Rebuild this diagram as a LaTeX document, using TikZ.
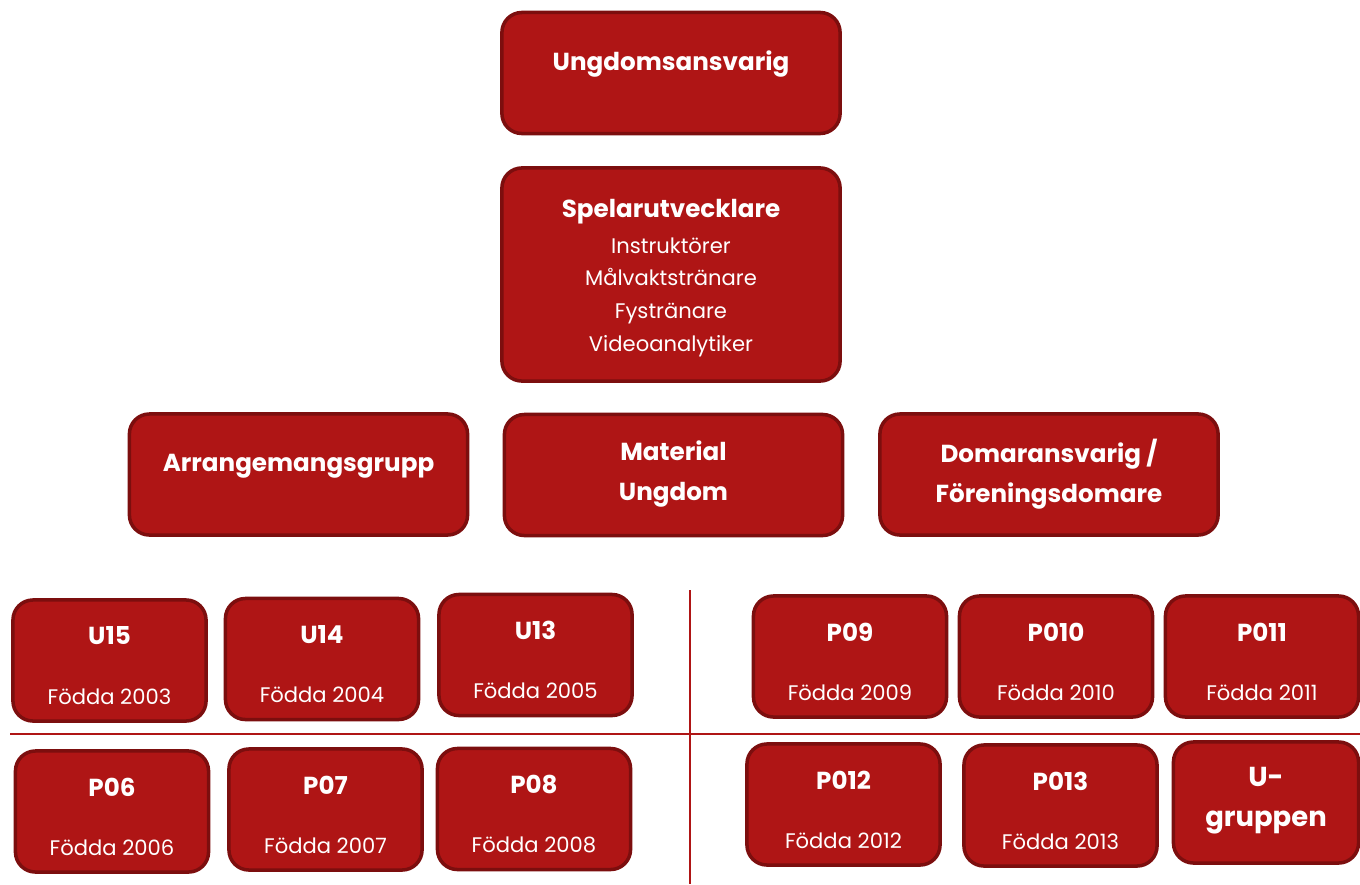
\documentclass[tikz,border=0pt]{standalone}
\usepackage{fontspec}
\setmainfont{Poppins}
\usetikzlibrary{calc}
\usetikzlibrary{positioning}
\definecolor{custom-red}{RGB}{175, 21, 21}
\definecolor{custom-darkred}{RGB}{124, 14, 14}

\tikzset{
  rolebox/.style={draw=custom-darkred, fill=custom-red, line width=1pt, rounded corners=0.2cm},
  agesize/.style={minimum width=1.93cm, minimum height=1.21cm},
  widesize/.style={minimum width=3.38cm, minimum height=1.21cm},
  boxtitle/.style={text=white, font=\bfseries\fontsize{7}{11.4}\selectfont, align=center},
  boxsub/.style={text=white, font=\fontsize{6}{9.3}\selectfont, align=center},
  divider/.style={draw=custom-red, line width=0.6pt}
}

% one age group: name, x, y, title, year
\newcommand{\agebox}[5]{%
  \node[rolebox, agesize] (#1) at (#2,#3) {};
  \node[boxtitle] (#1-title) at ($(#1.center)+(0,-24.5)$) {#4};
  \node[boxsub] (#1-year) at ($(#1.center)+(0,36)$) {Födda #5};
}

\begin{document}
\begin{tikzpicture}[x=0.01cm, y=-0.01cm]
\useasboundingbox (0,0) rectangle (1360,884);

% top of the chart
\node[rolebox, widesize] (ansvarig) at (671,73) {};
\node[boxtitle] (ansvarig-text) at (671,64) {Ungdomsansvarig};

\node[rolebox, minimum width=3.38cm, minimum height=2.13cm] (spelar) at (671,274.5) {};
\node[boxtitle] (spelar-title) at (671,212) {Spelarutvecklare};
\node[boxsub] (spelar-roles) at (671,297) {Instruktörer\\Målvaktstränare\\Fystränare\\Videoanalytiker};

% middle row
\node[rolebox, widesize] (arr) at (298.5,474.5) {};
\node[boxtitle] (arr-text) at (298.5,466) {Arrangemangsgrupp};
\node[rolebox, widesize] (mat) at (673.5,475) {};
\node[boxtitle] (mat-text) at (673.5,474) {Material\\Ungdom};
\node[rolebox, widesize] (dom) at (1049,474.5) {};
\node[boxtitle] (dom-text) at (1049,474) {Domaransvarig /\\Föreningsdomare};

% dividers
\coordinate (hline-l) at (10,734);
\coordinate (hline-r) at (1360,734);
\coordinate (vline-t) at (690,590);
\coordinate (vline-b) at (690,884);
\draw[divider] (hline-l) -- (hline-r);
\draw[divider] (vline-t) -- (vline-b);

% age groups
\agebox{u15}{109.5}{660.5}{U15}{2003}
\agebox{u14}{322}{659}{U14}{2004}
\agebox{u13}{535.5}{655}{U13}{2005}
\agebox{p09}{850}{656.5}{P09}{2009}
\agebox{p010}{1056}{656.5}{P010}{2010}
\agebox{p011}{1262}{656.5}{P011}{2011}
\agebox{p06}{112}{811.5}{P06}{2006}
\agebox{p07}{325.5}{809.5}{P07}{2007}
\agebox{p08}{534}{809}{P08}{2008}
\agebox{p012}{843.5}{804.5}{P012}{2012}
\agebox{p013}{1060.5}{805.5}{P013}{2013}

\node[rolebox, minimum width=1.85cm, minimum height=1.21cm] (ugrupp) at (1266,802.5) {};
\node[boxtitle, font=\bfseries\fontsize{7.8}{11.4}\selectfont] (ugrupp-text) at (1266,801) {U-\\gruppen};

\end{tikzpicture}
\end{document}
